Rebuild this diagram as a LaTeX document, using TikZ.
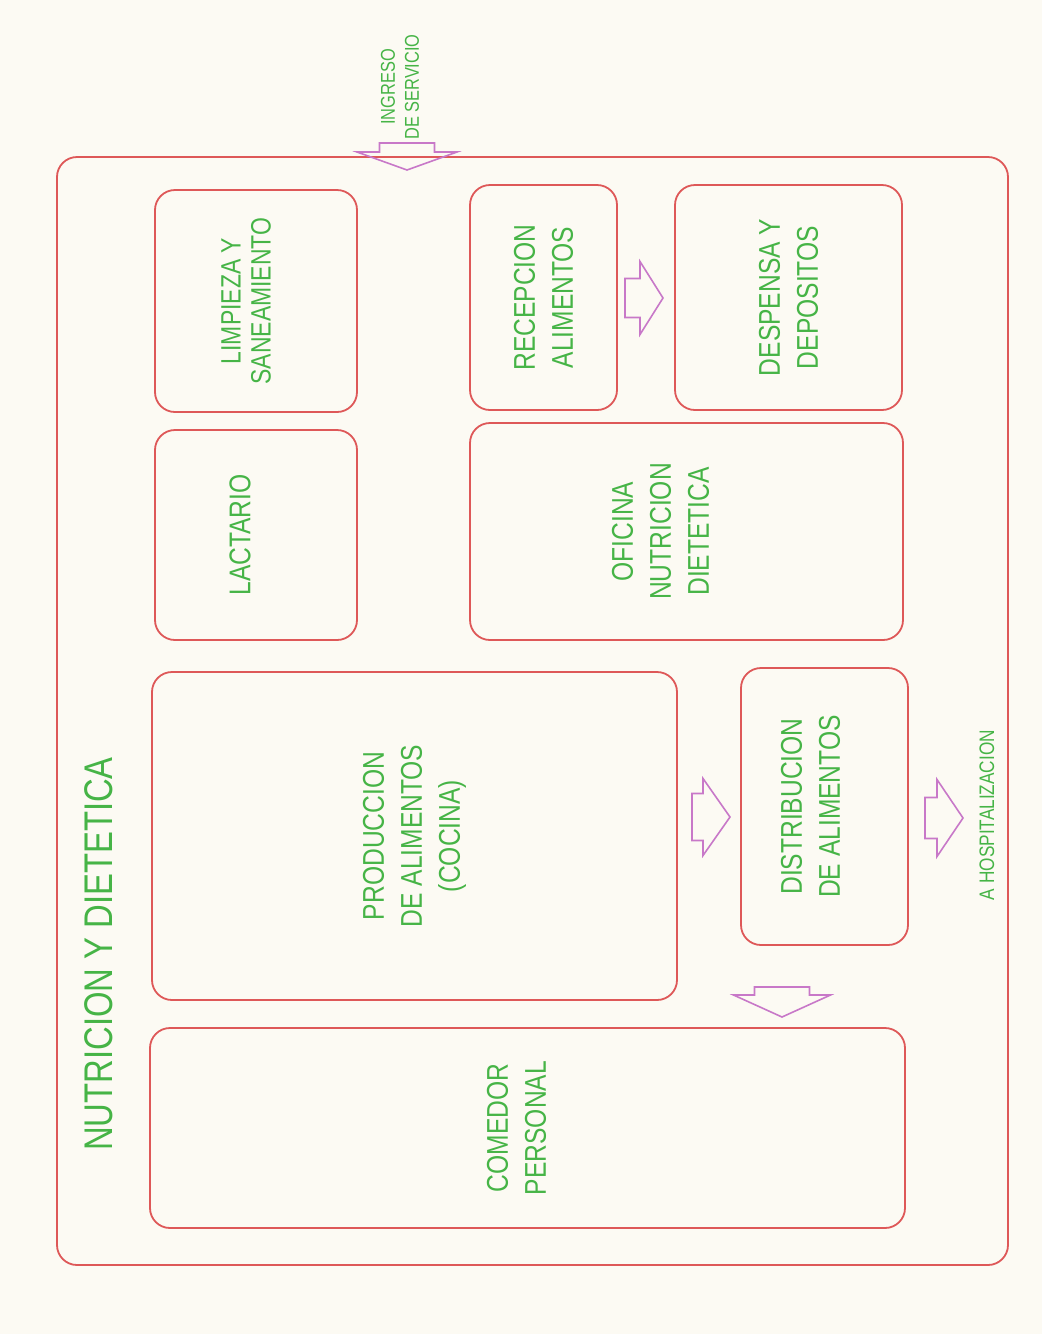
\documentclass[tikz,border=0pt]{standalone}
\usepackage{fontspec}
\setmainfont[FakeStretch=0.82]{Liberation Sans}
\definecolor{fondo}{RGB}{252,250,243}
\definecolor{muro}{RGB}{222,88,88}
\definecolor{verde}{RGB}{70,180,70}
\definecolor{flecha}{RGB}{200,120,200}
\begin{document}
\begin{tikzpicture}[x=0.5pt,y=-0.5pt,
  area/.style={draw=muro,line width=0.9pt,rounded corners=10pt,rotate=90,align=center,text=verde,inner sep=0pt,font=\fontsize{15}{19}\selectfont},
  leyenda/.style={rotate=90,align=center,text=verde,inner sep=0pt},
  paso/.style={draw=flecha,line width=0.8pt,line join=miter}]
\fill[fondo] (0,0) rectangle (1042,1334);
\useasboundingbox (0,0) rectangle (1042,1334);
\node[area,minimum width=554pt,minimum height=475.5pt] (dept) at (532.5,711) {};
\node[leyenda,font=\fontsize{20}{24}\selectfont] (titulo) at (99,954) {NUTRICION Y DIETETICA};
\node[area,minimum width=111pt,minimum height=101pt,font=\fontsize{14}{15}\selectfont,text depth=10pt] (limpieza) at (256,301) {LIMPIEZA Y\\SANEAMIENTO};
\node[area,minimum width=105pt,minimum height=101pt,text depth=16pt] (lactario) at (256,535) {LACTARIO};
\node[area,minimum width=112.5pt,minimum height=73.5pt] (recepcion) at (543.5,297.5) {RECEPCION\\ALIMENTOS};
\node[area,minimum width=112.5pt,minimum height=113.5pt] (despensa) at (788.5,297.5) {DESPENSA Y\\DEPOSITOS};
\node[area,minimum width=108.5pt,minimum height=216.5pt,text depth=26pt] (oficina) at (686.5,531.5) {OFICINA\\NUTRICION\\DIETETICA};
\node[area,minimum width=164pt,minimum height=262.5pt] (produccion) at (414.5,836) {PRODUCCION\\DE ALIMENTOS\\(COCINA)};
\node[area,minimum width=138.5pt,minimum height=83.5pt,text depth=14pt] (distribucion) at (824.5,806.5) {DISTRIBUCION\\DE ALIMENTOS};
\node[area,minimum width=100pt,minimum height=377.5pt,text depth=11pt] (comedor) at (527.5,1128) {COMEDOR\\PERSONAL};
\node[leyenda,font=\fontsize{10}{12}\selectfont] (ingreso) at (400,87) {INGRESO\\DE SERVICIO};
\node[leyenda,font=\fontsize{10.5}{12}\selectfont] (hosp) at (987,815) {A HOSPITALIZACION};
\foreach \tx/\ty/\giro/\hl/\sl/\sw/\hw in {663/298/0/23/15/39/73, 730/817/0/27/11/47/77, 963/818/0/26/12/41/77, 407/170/-90/18/9/55/100, 782/1017/-90/22/8/55/97}
  \draw[paso,shift={(\tx,\ty)},rotate=\giro] (0,0) -- ({-\hl},{\hw/2}) -- ({-\hl},{\sw/2}) -- ({-\hl-\sl},{\sw/2}) -- ({-\hl-\sl},{-\sw/2}) -- ({-\hl},{-\sw/2}) -- ({-\hl},{-\hw/2}) -- cycle;
\end{tikzpicture}
\end{document}
